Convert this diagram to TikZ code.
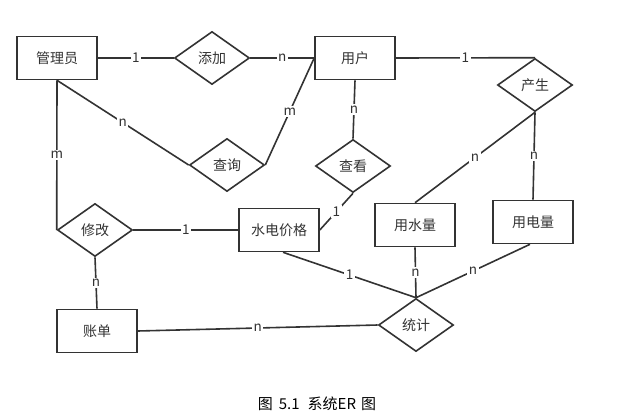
\documentclass[tikz,border=0pt]{standalone}
\usepackage{fontspec}
\newfontfamily\cjk{Noto Sans CJK SC}
\usetikzlibrary{shapes.geometric}
\tikzset{
  entity/.style={draw, rectangle, minimum width=80pt, minimum height=43pt, inner sep=0pt},
  relation/.style={draw, diamond, aspect=1.4, minimum width=75pt, minimum height=53pt, inner sep=0pt},
  card/.style={fill=white, inner sep=1.5pt, font=\cjk\fontsize{13.5}{15}\selectfont}
}
\begin{document}
\begin{tikzpicture}[x=1pt, y=-1pt, line width=1.6pt, draw=black!80, every node/.style={font=\cjk\fontsize{14}{16}\selectfont, text=black!80}]
  \useasboundingbox (0,0) rectangle (637,420);
  % entities (rectangles)
  \node[entity] (gly) at (57,58) {管理员};
  \node[entity] (yh) at (355,58) {用户};
  \node[entity] (sdjg) at (279,230) {水电价格};
  \node[entity] (zd) at (97,331) {账单};
  \node[entity] (ysl) at (415,225) {用水量};
  \node[entity] (ydl) at (533,222) {用电量};
  % relations (diamonds)
  \node[relation] (tj) at (212,58) {添加};
  \node[relation] (cx) at (227,165) {查询};
  \node[relation] (ck) at (353,166) {查看};
  \node[relation] (cs) at (535,85) {产生};
  \node[relation] (xg) at (95,230) {修改};
  \node[relation] (tongji) at (416,325) {统计};
  % connectors with cardinalities
  \draw (gly.east) -- node[card] {1} (tj.west);
  \draw (tj.east) -- node[card] {n} (yh.west);
  \draw (gly.south) -- node[card] {n} (cx.west);
  \draw (cx.east) -- node[card] {m} (yh.west);
  \draw (gly.south) -- node[card] {m} (xg.west);
  \draw (xg.east) -- node[card] {1} (sdjg.west);
  \draw (xg.south) -- node[card] {n} (zd.north);
  \draw (yh.south) -- node[card] {n} (ck.north);
  \draw (ck.south) -- node[card] {1} (sdjg.east);
  \draw (yh.east) -- node[card] {1} (cs.north);
  \draw (cs.south) -- node[card] {n} (ysl.north);
  \draw (cs.south) -- node[card] {n} (ydl.north);
  \draw ([xshift=4pt]sdjg.south) -- node[card] {1} (tongji.north);
  \draw (ysl.south) -- node[card] {n} (tongji.north);
  \draw ([xshift=-3pt]ydl.south) -- node[card] {n} (tongji.north);
  \draw (zd.east) -- node[card] {n} (tongji.west);
  % caption
  \node[font=\cjk\fontsize{15}{17}\selectfont, text=black] (cap) at (317,404) {图\hspace{6pt}5.1\hspace{8pt}系统ER\hspace{5pt}图};
\end{tikzpicture}
\end{document}
